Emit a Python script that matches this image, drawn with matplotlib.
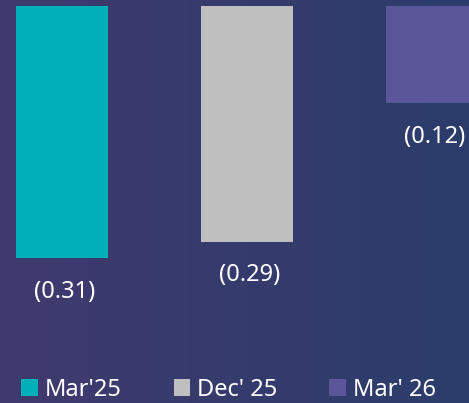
import numpy as np
import matplotlib
matplotlib.use("Agg")
import matplotlib.pyplot as plt
from matplotlib.patches import Patch

plt.rcParams['font.family'] = ['Noto Sans', 'DejaVu Sans']

periods = ["Mar'25", "Dec' 25", "Mar' 26"]
values = [-0.31, -0.29, -0.12]
labels = ["(0.31)", "(0.29)", "(0.12)"]
colors = ["#00B0B9", "#BFBFBF", "#5B5699"]

fig = plt.figure(figsize=(4.69, 4.03), dpi=100)

# gradient background
bg = fig.add_axes([0, 0, 1, 1])
bg.axis('off')
left = np.array([64, 58, 111]) / 255
right = np.array([43, 61, 106]) / 255
t = np.linspace(0, 1, 256)
grad = left[None, :] * (1 - t[:, None]) + right[None, :] * t[:, None]
bg.imshow(grad[None, :, :], aspect='auto', extent=[0, 1, 0, 1])

ax = fig.add_axes([0, 0, 1, 1])
ax.patch.set_alpha(0)
ax.axis('off')

x = np.arange(len(values))
ax.bar(x, values, width=0.497, color=colors)
ax.set_xlim(-0.335, 2.2)
ax.set_ylim(-(403 - 5.5) / 816, 5.5 / 816)

for xi, v, lab in zip(x, values, labels):
    ax.annotate(lab, (xi, v), xytext=(2, -24), textcoords='offset points',
                ha='center', va='center', color='white', fontsize=17)

handles = [Patch(facecolor=c, edgecolor='none') for c in colors]
fig.legend(handles, periods, loc='lower left', bbox_to_anchor=(0.01, -0.038),
           ncol=3, frameon=False, fontsize=17, labelcolor='white',
           handlelength=0.7, handleheight=0.7, handletextpad=0.3,
           columnspacing=2.2, borderpad=0.2)

fig.savefig("out.png", dpi=100)
